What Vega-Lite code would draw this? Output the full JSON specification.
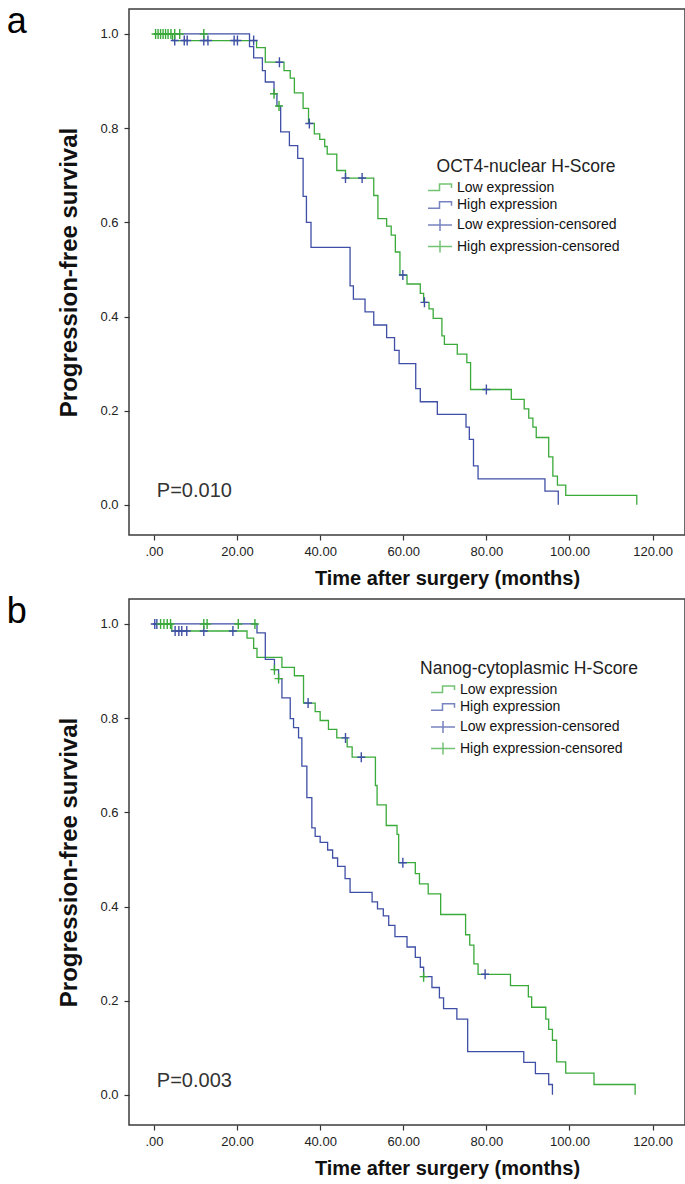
{
  "$schema": "https://vega.github.io/schema/vega-lite/v6.json",
  "autosize": {"type": "pad"},
  "padding": {"left": 6, "top": 3, "right": 0, "bottom": 0},
  "background": "white",
  "spacing": 64,
  "bounds": "flush",
  "resolve": {"scale": {"color": "independent", "shape": "independent"}, "legend": {"color": "independent", "shape": "independent"}},
  "config": {
    "font": "Liberation Sans",
    "view": {"stroke": "#3c3c3c", "strokeWidth": 1.5},
    "axis": {"domain": false, "grid": false, "tickSize": 5, "tickColor": "#333333", "tickWidth": 1.2, "labelColor": "#222222", "titleColor": "#111111", "titleFontWeight": "bold"},
    "legend": {"labelFontSize": 14, "titleFontSize": 17.5, "titleFontWeight": "normal", "titleColor": "#222222", "labelColor": "#111111", "symbolSize": 100, "labelOffset": 10, "rowPadding": 3.7, "titlePadding": 5, "symbolStrokeWidth": 1.5, "labelLimit": 400, "titleLimit": 400, "titleAnchor": "middle"}
  },
  "datasets": {
    "curves": [
      {"panel":"a","key":"Low expression","t":0,"s":1},
      {"panel":"a","key":"Low expression","t":4.5,"s":0.986},
      {"panel":"a","key":"Low expression","t":24.7,"s":0.971},
      {"panel":"a","key":"Low expression","t":26.8,"s":0.94},
      {"panel":"a","key":"Low expression","t":31.3,"s":0.922},
      {"panel":"a","key":"Low expression","t":32.8,"s":0.906},
      {"panel":"a","key":"Low expression","t":33.8,"s":0.875},
      {"panel":"a","key":"Low expression","t":35.9,"s":0.842},
      {"panel":"a","key":"Low expression","t":37.2,"s":0.81},
      {"panel":"a","key":"Low expression","t":38.6,"s":0.788},
      {"panel":"a","key":"Low expression","t":39.9,"s":0.776},
      {"panel":"a","key":"Low expression","t":41.1,"s":0.761},
      {"panel":"a","key":"Low expression","t":41.7,"s":0.745},
      {"panel":"a","key":"Low expression","t":44.0,"s":0.71},
      {"panel":"a","key":"Low expression","t":46.1,"s":0.694},
      {"panel":"a","key":"Low expression","t":52.9,"s":0.657},
      {"panel":"a","key":"Low expression","t":53.9,"s":0.608},
      {"panel":"a","key":"Low expression","t":56.0,"s":0.592},
      {"panel":"a","key":"Low expression","t":57.1,"s":0.573},
      {"panel":"a","key":"Low expression","t":58.1,"s":0.537},
      {"panel":"a","key":"Low expression","t":59.2,"s":0.488},
      {"panel":"a","key":"Low expression","t":60.9,"s":0.469},
      {"panel":"a","key":"Low expression","t":64.1,"s":0.449},
      {"panel":"a","key":"Low expression","t":64.9,"s":0.43},
      {"panel":"a","key":"Low expression","t":66.2,"s":0.416},
      {"panel":"a","key":"Low expression","t":67.2,"s":0.396},
      {"panel":"a","key":"Low expression","t":69.3,"s":0.359},
      {"panel":"a","key":"Low expression","t":69.9,"s":0.341},
      {"panel":"a","key":"Low expression","t":73.0,"s":0.32},
      {"panel":"a","key":"Low expression","t":75.3,"s":0.302},
      {"panel":"a","key":"Low expression","t":76.2,"s":0.245},
      {"panel":"a","key":"Low expression","t":86.0,"s":0.224},
      {"panel":"a","key":"Low expression","t":89.1,"s":0.204},
      {"panel":"a","key":"Low expression","t":90.2,"s":0.184},
      {"panel":"a","key":"Low expression","t":91.2,"s":0.165},
      {"panel":"a","key":"Low expression","t":92.0,"s":0.143},
      {"panel":"a","key":"Low expression","t":95.0,"s":0.102},
      {"panel":"a","key":"Low expression","t":96.0,"s":0.061},
      {"panel":"a","key":"Low expression","t":97.1,"s":0.042},
      {"panel":"a","key":"Low expression","t":99.1,"s":0.02},
      {"panel":"a","key":"Low expression","t":116.2,"s":0.0},
      {"panel":"a","key":"High expression","t":0,"s":1},
      {"panel":"a","key":"High expression","t":23.0,"s":0.973},
      {"panel":"a","key":"High expression","t":24.0,"s":0.949},
      {"panel":"a","key":"High expression","t":26.1,"s":0.922},
      {"panel":"a","key":"High expression","t":26.8,"s":0.898},
      {"panel":"a","key":"High expression","t":28.9,"s":0.873},
      {"panel":"a","key":"High expression","t":29.6,"s":0.847},
      {"panel":"a","key":"High expression","t":30.5,"s":0.792},
      {"panel":"a","key":"High expression","t":32.6,"s":0.763},
      {"panel":"a","key":"High expression","t":34.6,"s":0.736},
      {"panel":"a","key":"High expression","t":35.9,"s":0.655},
      {"panel":"a","key":"High expression","t":36.7,"s":0.6},
      {"panel":"a","key":"High expression","t":37.8,"s":0.547},
      {"panel":"a","key":"High expression","t":47.2,"s":0.465},
      {"panel":"a","key":"High expression","t":48.0,"s":0.437},
      {"panel":"a","key":"High expression","t":50.8,"s":0.41},
      {"panel":"a","key":"High expression","t":52.9,"s":0.382},
      {"panel":"a","key":"High expression","t":56.0,"s":0.355},
      {"panel":"a","key":"High expression","t":57.9,"s":0.328},
      {"panel":"a","key":"High expression","t":59.0,"s":0.3},
      {"panel":"a","key":"High expression","t":63.0,"s":0.247},
      {"panel":"a","key":"High expression","t":64.1,"s":0.219},
      {"panel":"a","key":"High expression","t":68.2,"s":0.192},
      {"panel":"a","key":"High expression","t":75.1,"s":0.165},
      {"panel":"a","key":"High expression","t":75.9,"s":0.139},
      {"panel":"a","key":"High expression","t":76.9,"s":0.083},
      {"panel":"a","key":"High expression","t":78.0,"s":0.055},
      {"panel":"a","key":"High expression","t":94.1,"s":0.029},
      {"panel":"a","key":"High expression","t":97.3,"s":0.0},
      {"panel":"b","key":"Low expression","t":0,"s":1},
      {"panel":"b","key":"Low expression","t":4.3,"s":0.985},
      {"panel":"b","key":"Low expression","t":22.4,"s":0.97},
      {"panel":"b","key":"Low expression","t":24.0,"s":0.948},
      {"panel":"b","key":"Low expression","t":24.8,"s":0.929},
      {"panel":"b","key":"Low expression","t":30.8,"s":0.908},
      {"panel":"b","key":"Low expression","t":33.8,"s":0.89},
      {"panel":"b","key":"Low expression","t":36.0,"s":0.832},
      {"panel":"b","key":"Low expression","t":38.8,"s":0.814},
      {"panel":"b","key":"Low expression","t":40.0,"s":0.795},
      {"panel":"b","key":"Low expression","t":42.0,"s":0.776},
      {"panel":"b","key":"Low expression","t":44.0,"s":0.758},
      {"panel":"b","key":"Low expression","t":46.5,"s":0.739},
      {"panel":"b","key":"Low expression","t":47.7,"s":0.717},
      {"panel":"b","key":"Low expression","t":53.3,"s":0.657},
      {"panel":"b","key":"Low expression","t":53.7,"s":0.616},
      {"panel":"b","key":"Low expression","t":55.9,"s":0.572},
      {"panel":"b","key":"Low expression","t":58.5,"s":0.553},
      {"panel":"b","key":"Low expression","t":58.9,"s":0.493},
      {"panel":"b","key":"Low expression","t":62.9,"s":0.47},
      {"panel":"b","key":"Low expression","t":63.9,"s":0.448},
      {"panel":"b","key":"Low expression","t":66.0,"s":0.427},
      {"panel":"b","key":"Low expression","t":69.0,"s":0.383},
      {"panel":"b","key":"Low expression","t":75.0,"s":0.34},
      {"panel":"b","key":"Low expression","t":76.0,"s":0.318},
      {"panel":"b","key":"Low expression","t":77.0,"s":0.278},
      {"panel":"b","key":"Low expression","t":78.0,"s":0.256},
      {"panel":"b","key":"Low expression","t":85.8,"s":0.232},
      {"panel":"b","key":"Low expression","t":90.1,"s":0.208},
      {"panel":"b","key":"Low expression","t":90.9,"s":0.186},
      {"panel":"b","key":"Low expression","t":94.3,"s":0.161},
      {"panel":"b","key":"Low expression","t":95.0,"s":0.139},
      {"panel":"b","key":"Low expression","t":95.9,"s":0.116},
      {"panel":"b","key":"Low expression","t":96.9,"s":0.07},
      {"panel":"b","key":"Low expression","t":99.1,"s":0.046},
      {"panel":"b","key":"Low expression","t":105.9,"s":0.022},
      {"panel":"b","key":"Low expression","t":115.8,"s":0.0},
      {"panel":"b","key":"High expression","t":0,"s":1},
      {"panel":"b","key":"High expression","t":24.8,"s":0.981},
      {"panel":"b","key":"High expression","t":26.8,"s":0.925},
      {"panel":"b","key":"High expression","t":29.0,"s":0.903},
      {"panel":"b","key":"High expression","t":30.0,"s":0.884},
      {"panel":"b","key":"High expression","t":30.8,"s":0.843},
      {"panel":"b","key":"High expression","t":32.8,"s":0.799},
      {"panel":"b","key":"High expression","t":33.6,"s":0.78},
      {"panel":"b","key":"High expression","t":34.8,"s":0.758},
      {"panel":"b","key":"High expression","t":35.6,"s":0.698},
      {"panel":"b","key":"High expression","t":36.8,"s":0.631},
      {"panel":"b","key":"High expression","t":38.0,"s":0.567},
      {"panel":"b","key":"High expression","t":38.8,"s":0.549},
      {"panel":"b","key":"High expression","t":40.0,"s":0.536},
      {"panel":"b","key":"High expression","t":41.8,"s":0.52},
      {"panel":"b","key":"High expression","t":43.0,"s":0.503},
      {"panel":"b","key":"High expression","t":44.2,"s":0.485},
      {"panel":"b","key":"High expression","t":46.0,"s":0.459},
      {"panel":"b","key":"High expression","t":47.2,"s":0.43},
      {"panel":"b","key":"High expression","t":52.5,"s":0.41},
      {"panel":"b","key":"High expression","t":53.8,"s":0.395},
      {"panel":"b","key":"High expression","t":55.2,"s":0.38},
      {"panel":"b","key":"High expression","t":56.5,"s":0.36},
      {"panel":"b","key":"High expression","t":58.0,"s":0.336},
      {"panel":"b","key":"High expression","t":60.9,"s":0.314},
      {"panel":"b","key":"High expression","t":62.9,"s":0.292},
      {"panel":"b","key":"High expression","t":64.1,"s":0.271},
      {"panel":"b","key":"High expression","t":64.9,"s":0.251},
      {"panel":"b","key":"High expression","t":66.9,"s":0.228},
      {"panel":"b","key":"High expression","t":68.7,"s":0.206},
      {"panel":"b","key":"High expression","t":69.7,"s":0.183},
      {"panel":"b","key":"High expression","t":72.9,"s":0.161},
      {"panel":"b","key":"High expression","t":75.5,"s":0.092},
      {"panel":"b","key":"High expression","t":89.0,"s":0.069},
      {"panel":"b","key":"High expression","t":91.8,"s":0.045},
      {"panel":"b","key":"High expression","t":95.0,"s":0.022},
      {"panel":"b","key":"High expression","t":95.9,"s":0.0}
    ],
    "censor": [
      {"panel":"a","key":"Low expression-censored","t":5.0,"s":0.986},
      {"panel":"a","key":"Low expression-censored","t":7.3,"s":0.986},
      {"panel":"a","key":"Low expression-censored","t":8.0,"s":0.986},
      {"panel":"a","key":"Low expression-censored","t":12.0,"s":0.986},
      {"panel":"a","key":"Low expression-censored","t":13.0,"s":0.986},
      {"panel":"a","key":"Low expression-censored","t":19.3,"s":0.986},
      {"panel":"a","key":"Low expression-censored","t":20.1,"s":0.986},
      {"panel":"a","key":"Low expression-censored","t":24.0,"s":0.986},
      {"panel":"a","key":"Low expression-censored","t":30.2,"s":0.94},
      {"panel":"a","key":"Low expression-censored","t":37.4,"s":0.81},
      {"panel":"a","key":"Low expression-censored","t":46.1,"s":0.694},
      {"panel":"a","key":"Low expression-censored","t":50.1,"s":0.694},
      {"panel":"a","key":"Low expression-censored","t":59.9,"s":0.488},
      {"panel":"a","key":"Low expression-censored","t":65.1,"s":0.43},
      {"panel":"a","key":"Low expression-censored","t":80.0,"s":0.245},
      {"panel":"a","key":"High expression-censored","t":0.4,"s":1},
      {"panel":"a","key":"High expression-censored","t":1.0,"s":1},
      {"panel":"a","key":"High expression-censored","t":1.6,"s":1},
      {"panel":"a","key":"High expression-censored","t":2.2,"s":1},
      {"panel":"a","key":"High expression-censored","t":2.8,"s":1},
      {"panel":"a","key":"High expression-censored","t":3.4,"s":1},
      {"panel":"a","key":"High expression-censored","t":4.1,"s":1},
      {"panel":"a","key":"High expression-censored","t":5.0,"s":1},
      {"panel":"a","key":"High expression-censored","t":6.2,"s":1},
      {"panel":"a","key":"High expression-censored","t":12.0,"s":1},
      {"panel":"a","key":"High expression-censored","t":28.9,"s":0.873},
      {"panel":"a","key":"High expression-censored","t":30.1,"s":0.847},
      {"panel":"b","key":"Low expression-censored","t":0.2,"s":1},
      {"panel":"b","key":"Low expression-censored","t":0.7,"s":1},
      {"panel":"b","key":"Low expression-censored","t":5.1,"s":0.985},
      {"panel":"b","key":"Low expression-censored","t":6.0,"s":0.985},
      {"panel":"b","key":"Low expression-censored","t":6.7,"s":0.985},
      {"panel":"b","key":"Low expression-censored","t":7.9,"s":0.985},
      {"panel":"b","key":"Low expression-censored","t":12.0,"s":0.985},
      {"panel":"b","key":"Low expression-censored","t":19.0,"s":0.985},
      {"panel":"b","key":"Low expression-censored","t":37.1,"s":0.832},
      {"panel":"b","key":"Low expression-censored","t":46.1,"s":0.758},
      {"panel":"b","key":"Low expression-censored","t":49.9,"s":0.717},
      {"panel":"b","key":"Low expression-censored","t":59.9,"s":0.493},
      {"panel":"b","key":"Low expression-censored","t":79.7,"s":0.256},
      {"panel":"b","key":"High expression-censored","t":1.6,"s":1},
      {"panel":"b","key":"High expression-censored","t":2.4,"s":1},
      {"panel":"b","key":"High expression-censored","t":3.2,"s":1},
      {"panel":"b","key":"High expression-censored","t":4.0,"s":1},
      {"panel":"b","key":"High expression-censored","t":12.0,"s":1},
      {"panel":"b","key":"High expression-censored","t":12.8,"s":1},
      {"panel":"b","key":"High expression-censored","t":20.3,"s":1},
      {"panel":"b","key":"High expression-censored","t":24.3,"s":1},
      {"panel":"b","key":"High expression-censored","t":29.0,"s":0.903},
      {"panel":"b","key":"High expression-censored","t":30.0,"s":0.884},
      {"panel":"b","key":"High expression-censored","t":64.9,"s":0.251}
    ]
  },
  "vconcat": [
    {
      "width": 556,
      "height": 526,
      "resolve": {"scale": {"color": "independent", "shape": "independent"}, "legend": {"color": "independent", "shape": "independent"}},
      "layer": [
        {
          "data": {"name": "curves"},
          "transform": [{"filter": "datum.panel == 'a'"}],
          "mark": {"type": "line", "interpolate": "step-after", "strokeWidth": 1.3},
          "encoding": {
            "x": {"field": "t", "type": "quantitative", "scale": {"domain": [-6.0, 127.8], "nice": false, "zero": false},
                  "axis": {"title": "Time after surgery (months)", "values": [0,20,40,60,80,100,120], "labelExpr": "datum.value == 0 ? '.00' : format(datum.value, '.2f')", "labelFontSize": 13, "labelPadding": 5, "titleFontSize": 20, "titlePadding": 10, "titleX": 318}},
            "y": {"field": "s", "type": "quantitative", "scale": {"domain": [-0.064, 1.053], "nice": false, "zero": false},
                  "axis": {"title": "Progression-free survival", "values": [0,0.2,0.4,0.6,0.8,1.0], "format": ".1f", "labelFontSize": 13, "labelPadding": 6, "titleFontSize": 24, "titlePadding": 18}},
            "color": {"field": "key", "type": "nominal", "legend": null,
                      "scale": {"domain": ["Low expression","High expression","Low expression-censored","High expression-censored"], "range": ["#3aaa3a","#3f4fa6","#3f4fa6","#3aaa3a"]}}
          }
        },
        {
          "data": {"name": "censor"},
          "transform": [{"filter": "datum.panel == 'a'"}],
          "mark": {"type": "point", "filled": false, "size": 100, "strokeWidth": 1.4, "opacity": 1},
          "encoding": {
            "x": {"field": "t", "type": "quantitative"},
            "y": {"field": "s", "type": "quantitative"},
            "color": {"field": "key", "type": "nominal", "legend": null,
                      "scale": {"domain": ["Low expression","High expression","Low expression-censored","High expression-censored"], "range": ["#3aaa3a","#3f4fa6","#3f4fa6","#3aaa3a"]}},
            "shape": {"field": "key", "type": "nominal", "legend": null,
                      "scale": {"domain": ["Low expression","High expression","Low expression-censored","High expression-censored"], "range": ["M-0.8,0 H0.8 M0,-1 V1","M-0.8,0 H0.8 M0,-1 V1","M-0.8,0 H0.8 M0,-1 V1","M-0.8,0 H0.8 M0,-1 V1"]}}
          }
        },
        {
          "data": {"name": "censor"},
          "transform": [{"filter": "datum.panel == 'a'"}],
          "mark": {"type": "point", "filled": false, "size": 0, "strokeWidth": 1.5},
          "encoding": {
            "x": {"field": "t", "type": "quantitative"},
            "y": {"field": "s", "type": "quantitative"},
            "color": {"field": "key", "type": "nominal",
                      "scale": {"domain": ["Low expression","High expression","Low expression-censored","High expression-censored"], "range": ["#3aaa3a","#3f4fa6","#3f4fa6","#3aaa3a"]},
                      "legend": {"title": "OCT4-nuclear H-Score", "orient": "none", "legendX": 304, "legendY": 149}},
            "shape": {"field": "key", "type": "nominal",
                      "scale": {"domain": ["Low expression","High expression","Low expression-censored","High expression-censored"], "range": ["M-2.4,0.6 H-0.1 V-0.7 H2.3 V0.1","M-2.4,0.6 H-0.1 V-0.7 H2.3 V0.1","M-2.4,0 H2.4 M0,-1.2 V1.2","M-2.4,0 H2.4 M0,-1.2 V1.2"]},
                      "legend": {"title": "OCT4-nuclear H-Score", "orient": "none", "legendX": 304, "legendY": 149}}
          }
        },
        {
          "data": {"values": [{"label": "P=0.010"}]},
          "mark": {"type": "text", "align": "left", "baseline": "middle", "fontSize": 20, "color": "#333333"},
          "encoding": {"x": {"datum": 0.7, "type": "quantitative"}, "y": {"datum": 0.03, "type": "quantitative"}, "text": {"field": "label", "type": "nominal"}}
        },
        {
          "data": {"values": [{"label": "a"}]},
          "mark": {"type": "text", "align": "left", "baseline": "alphabetic", "fontSize": 36, "color": "#000000"},
          "encoding": {"x": {"datum": -35.4, "type": "quantitative"}, "y": {"datum": 1.002, "type": "quantitative"}, "text": {"field": "label", "type": "nominal"}}
        }
      ]
    },
    {
      "width": 556,
      "height": 526,
      "resolve": {"scale": {"color": "independent", "shape": "independent"}, "legend": {"color": "independent", "shape": "independent"}},
      "layer": [
        {
          "data": {"name": "curves"},
          "transform": [{"filter": "datum.panel == 'b'"}],
          "mark": {"type": "line", "interpolate": "step-after", "strokeWidth": 1.3},
          "encoding": {
            "x": {"field": "t", "type": "quantitative", "scale": {"domain": [-6.0, 127.8], "nice": false, "zero": false},
                  "axis": {"title": "Time after surgery (months)", "values": [0,20,40,60,80,100,120], "labelExpr": "datum.value == 0 ? '.00' : format(datum.value, '.2f')", "labelFontSize": 13, "labelPadding": 5, "titleFontSize": 20, "titlePadding": 10, "titleX": 318}},
            "y": {"field": "s", "type": "quantitative", "scale": {"domain": [-0.064, 1.053], "nice": false, "zero": false},
                  "axis": {"title": "Progression-free survival", "values": [0,0.2,0.4,0.6,0.8,1.0], "format": ".1f", "labelFontSize": 13, "labelPadding": 6, "titleFontSize": 24, "titlePadding": 18}},
            "color": {"field": "key", "type": "nominal", "legend": null,
                      "scale": {"domain": ["Low expression","High expression","Low expression-censored","High expression-censored"], "range": ["#3aaa3a","#3f4fa6","#3f4fa6","#3aaa3a"]}}
          }
        },
        {
          "data": {"name": "censor"},
          "transform": [{"filter": "datum.panel == 'b'"}],
          "mark": {"type": "point", "filled": false, "size": 100, "strokeWidth": 1.4, "opacity": 1},
          "encoding": {
            "x": {"field": "t", "type": "quantitative"},
            "y": {"field": "s", "type": "quantitative"},
            "color": {"field": "key", "type": "nominal", "legend": null,
                      "scale": {"domain": ["Low expression","High expression","Low expression-censored","High expression-censored"], "range": ["#3aaa3a","#3f4fa6","#3f4fa6","#3aaa3a"]}},
            "shape": {"field": "key", "type": "nominal", "legend": null,
                      "scale": {"domain": ["Low expression","High expression","Low expression-censored","High expression-censored"], "range": ["M-0.8,0 H0.8 M0,-1 V1","M-0.8,0 H0.8 M0,-1 V1","M-0.8,0 H0.8 M0,-1 V1","M-0.8,0 H0.8 M0,-1 V1"]}}
          }
        },
        {
          "data": {"name": "censor"},
          "transform": [{"filter": "datum.panel == 'b'"}],
          "mark": {"type": "point", "filled": false, "size": 0, "strokeWidth": 1.5},
          "encoding": {
            "x": {"field": "t", "type": "quantitative"},
            "y": {"field": "s", "type": "quantitative"},
            "color": {"field": "key", "type": "nominal",
                      "scale": {"domain": ["Low expression","High expression","Low expression-censored","High expression-censored"], "range": ["#3aaa3a","#3f4fa6","#3f4fa6","#3aaa3a"]},
                      "legend": {"title": "Nanog-cytoplasmic H-Score", "orient": "none", "legendX": 291, "legendY": 61}},
            "shape": {"field": "key", "type": "nominal",
                      "scale": {"domain": ["Low expression","High expression","Low expression-censored","High expression-censored"], "range": ["M-2.4,0.6 H-0.1 V-0.7 H2.3 V0.1","M-2.4,0.6 H-0.1 V-0.7 H2.3 V0.1","M-2.4,0 H2.4 M0,-1.2 V1.2","M-2.4,0 H2.4 M0,-1.2 V1.2"]},
                      "legend": {"title": "Nanog-cytoplasmic H-Score", "orient": "none", "legendX": 291, "legendY": 61}}
          }
        },
        {
          "data": {"values": [{"label": "P=0.003"}]},
          "mark": {"type": "text", "align": "left", "baseline": "middle", "fontSize": 20, "color": "#333333"},
          "encoding": {"x": {"datum": 0.7, "type": "quantitative"}, "y": {"datum": 0.03, "type": "quantitative"}, "text": {"field": "label", "type": "nominal"}}
        },
        {
          "data": {"values": [{"label": "b"}]},
          "mark": {"type": "text", "align": "left", "baseline": "alphabetic", "fontSize": 36, "color": "#000000"},
          "encoding": {"x": {"datum": -35.4, "type": "quantitative"}, "y": {"datum": 1.002, "type": "quantitative"}, "text": {"field": "label", "type": "nominal"}}
        }
      ]
    }
  ]
}
